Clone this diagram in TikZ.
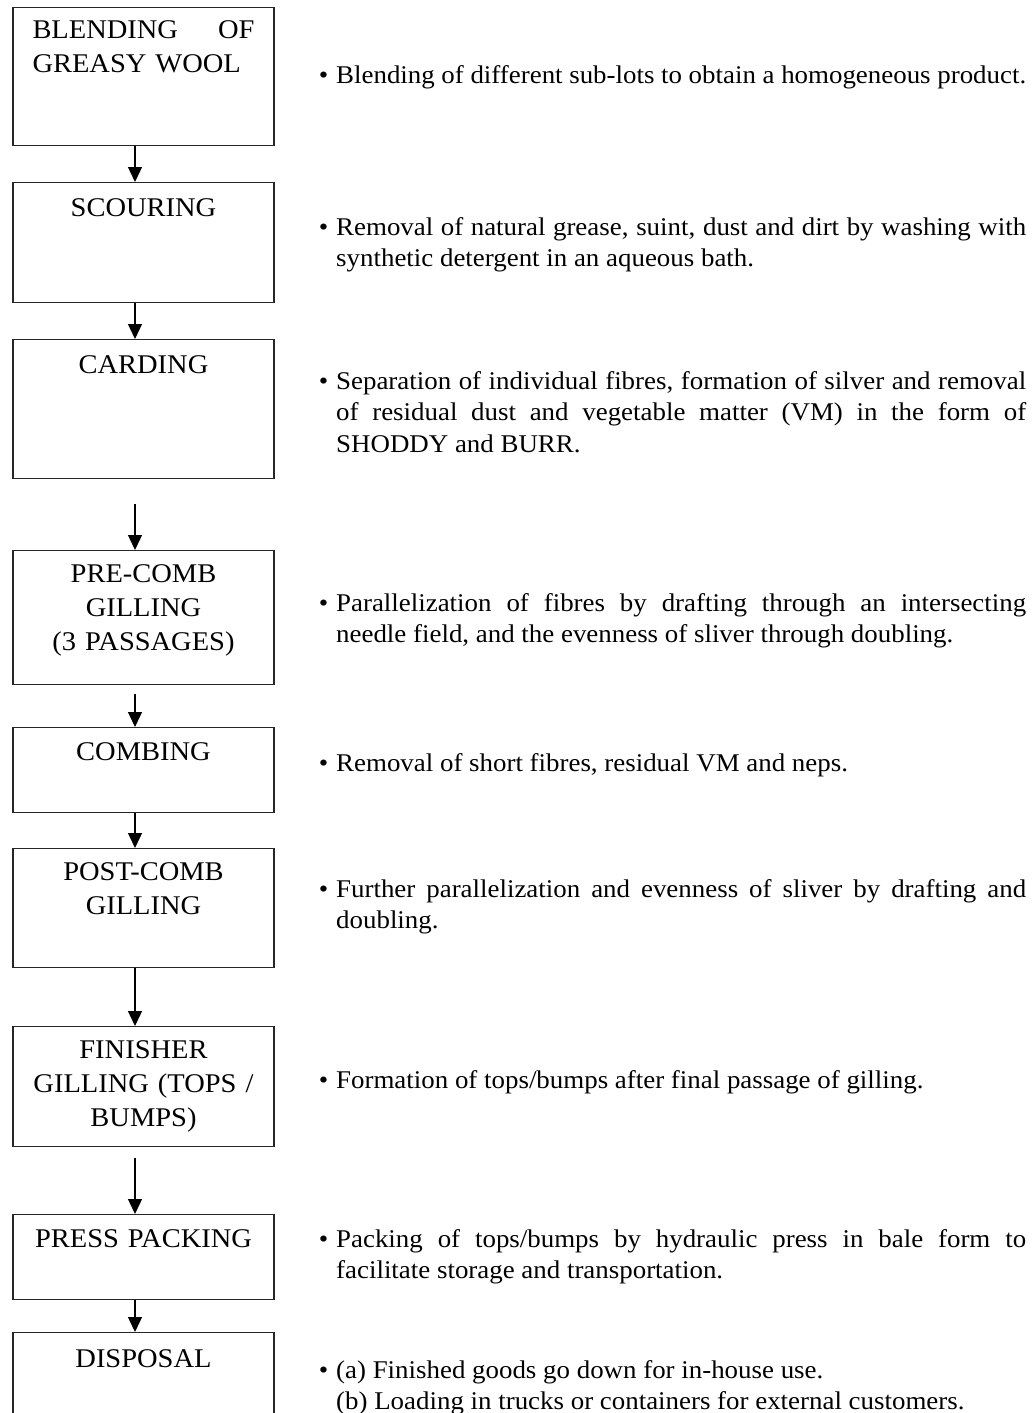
\documentclass[tikz,border=0pt]{standalone}
\usepackage{fontspec}
\setmainfont[FakeStretch=1.055]{Liberation Serif}
\usetikzlibrary{arrows.meta,positioning}
\hyphenpenalty=10000
\exhyphenpenalty=10000

\tikzset{
  stage/.style={draw=black!85, line width=1.3pt, minimum width=261pt, anchor=north, inner sep=0pt},
  title/.style={anchor=base, text width=222pt, align=center, inner sep=0pt,
    font=\fontsize{27}{34}\selectfont},
  note/.style={anchor=base west, text width=690pt, align=justify, inner sep=0pt,
    font=\fontsize{25.5}{31.5}\selectfont},
  flow/.style={-{Triangle[width=14pt,length=15pt]}, line width=1.3pt},
}
\newcommand{\bul}{\llap{\textbullet\hspace{8pt}}}

\begin{document}
\begin{tikzpicture}[x=1pt, y=-1pt]
    \useasboundingbox (0,0) rectangle (1034,1413);
    \clip (0,0) rectangle (1034,1413);

    % ==================== CÁC HỘP CÔNG ĐOẠN ====================
    \node[stage, minimum height=138pt] (blend) at (143.5,7) {};
    \node[stage, minimum height=120pt] (scour) at (143.5,182) {};
    \node[stage, minimum height=139pt] (card) at (143.5,339) {};
    \node[stage, minimum height=134pt] (precomb) at (143.5,550) {};
    \node[stage, minimum height=85pt] (comb) at (143.5,727) {};
    \node[stage, minimum height=119pt] (postcomb) at (143.5,848) {};
    \node[stage, minimum height=120pt] (finish) at (143.5,1026) {};
    \node[stage, minimum height=85pt] (press) at (143.5,1214) {};
    \node[stage, minimum height=130pt] (dispose) at (143.5,1332) {};

    % Tên công đoạn
    \node[title, align=left] (blendt) at ([yshift=-32pt]blend.north) {BLENDING \hfill OF\\GREASY WOOL};
    \node[title] (scourt) at ([yshift=-34pt]scour.north) {SCOURING};
    \node[title] (cardt) at ([yshift=-34pt]card.north) {CARDING};
    \node[title] (precombt) at ([yshift=-32pt]precomb.north) {PRE-COMB\\GILLING\\(3 PASSAGES)};
    \node[title] (combt) at ([yshift=-33pt]comb.north) {COMBING};
    \node[title] (postcombt) at ([yshift=-32pt]postcomb.north) {POST-COMB\\GILLING};
    \node[title] (finisht) at ([yshift=-32pt]finish.north) {FINISHER\\GILLING (TOPS /\\BUMPS)};
    \node[title] (presst) at ([yshift=-33pt]press.north) {PRESS PACKING};
    \node[title] (disposet) at ([yshift=-35pt]dispose.north) {DISPOSAL};

    % Mũi tên nối các hộp
    \draw[flow] ([xshift=-8.5pt]blend.south) -- ([xshift=-8.5pt]scour.north);
    \draw[flow] ([xshift=-8.5pt]scour.south) -- ([xshift=-8.5pt]card.north);
    \draw[flow, shorten <=25pt] ([xshift=-8.5pt]card.south) -- ([xshift=-8.5pt]precomb.north);
    \draw[flow, shorten <=9pt] ([xshift=-8.5pt]precomb.south) -- ([xshift=-8.5pt]comb.north);
    \draw[flow] ([xshift=-8.5pt]comb.south) -- ([xshift=-8.5pt]postcomb.north);
    \draw[flow] ([xshift=-8.5pt]postcomb.south) -- ([xshift=-8.5pt]finish.north);
    \draw[flow, shorten <=11pt] ([xshift=-8.5pt]finish.south) -- ([xshift=-8.5pt]press.north);
    \draw[flow] ([xshift=-8.5pt]press.south) -- ([xshift=-8.5pt]dispose.north);

    % ==================== GHI CHÚ BÊN PHẢI ====================
    \node[note] (blendn) at (336,83) {\bul Blending of different sub-lots to obtain a homogeneous product.};
    \node[note] (scourn) at (336,235) {\bul Removal of natural grease, suint, dust and dirt by washing with\linebreak synthetic detergent in an aqueous bath.};
    \node[note] (cardn) at (336,389) {\bul Separation of individual fibres, formation of silver and removal\linebreak of residual dust and vegetable matter (VM) in the form of\linebreak SHODDY and BURR.};
    \node[note] (precombn) at (336,611) {\bul Parallelization of fibres by drafting through an intersecting\linebreak needle field, and the evenness of sliver through doubling.};
    \node[note] (combn) at (336,771) {\bul Removal of short fibres, residual VM and neps.};
    \node[note] (postcombn) at (336,897) {\bul Further parallelization and evenness of sliver by drafting and\linebreak doubling.};
    \node[note] (finishn) at (336,1088) {\bul Formation of tops/bumps after final passage of gilling.};
    \node[note] (pressn) at (336,1247) {\bul Packing of tops/bumps by hydraulic press in bale form to\linebreak facilitate storage and transportation.};
    \node[note] (disposen) at (336,1378) {\bul (a) Finished goods go down for in-house use.\\(b) Loading in trucks or containers for external customers.};
\end{tikzpicture}
\end{document}
